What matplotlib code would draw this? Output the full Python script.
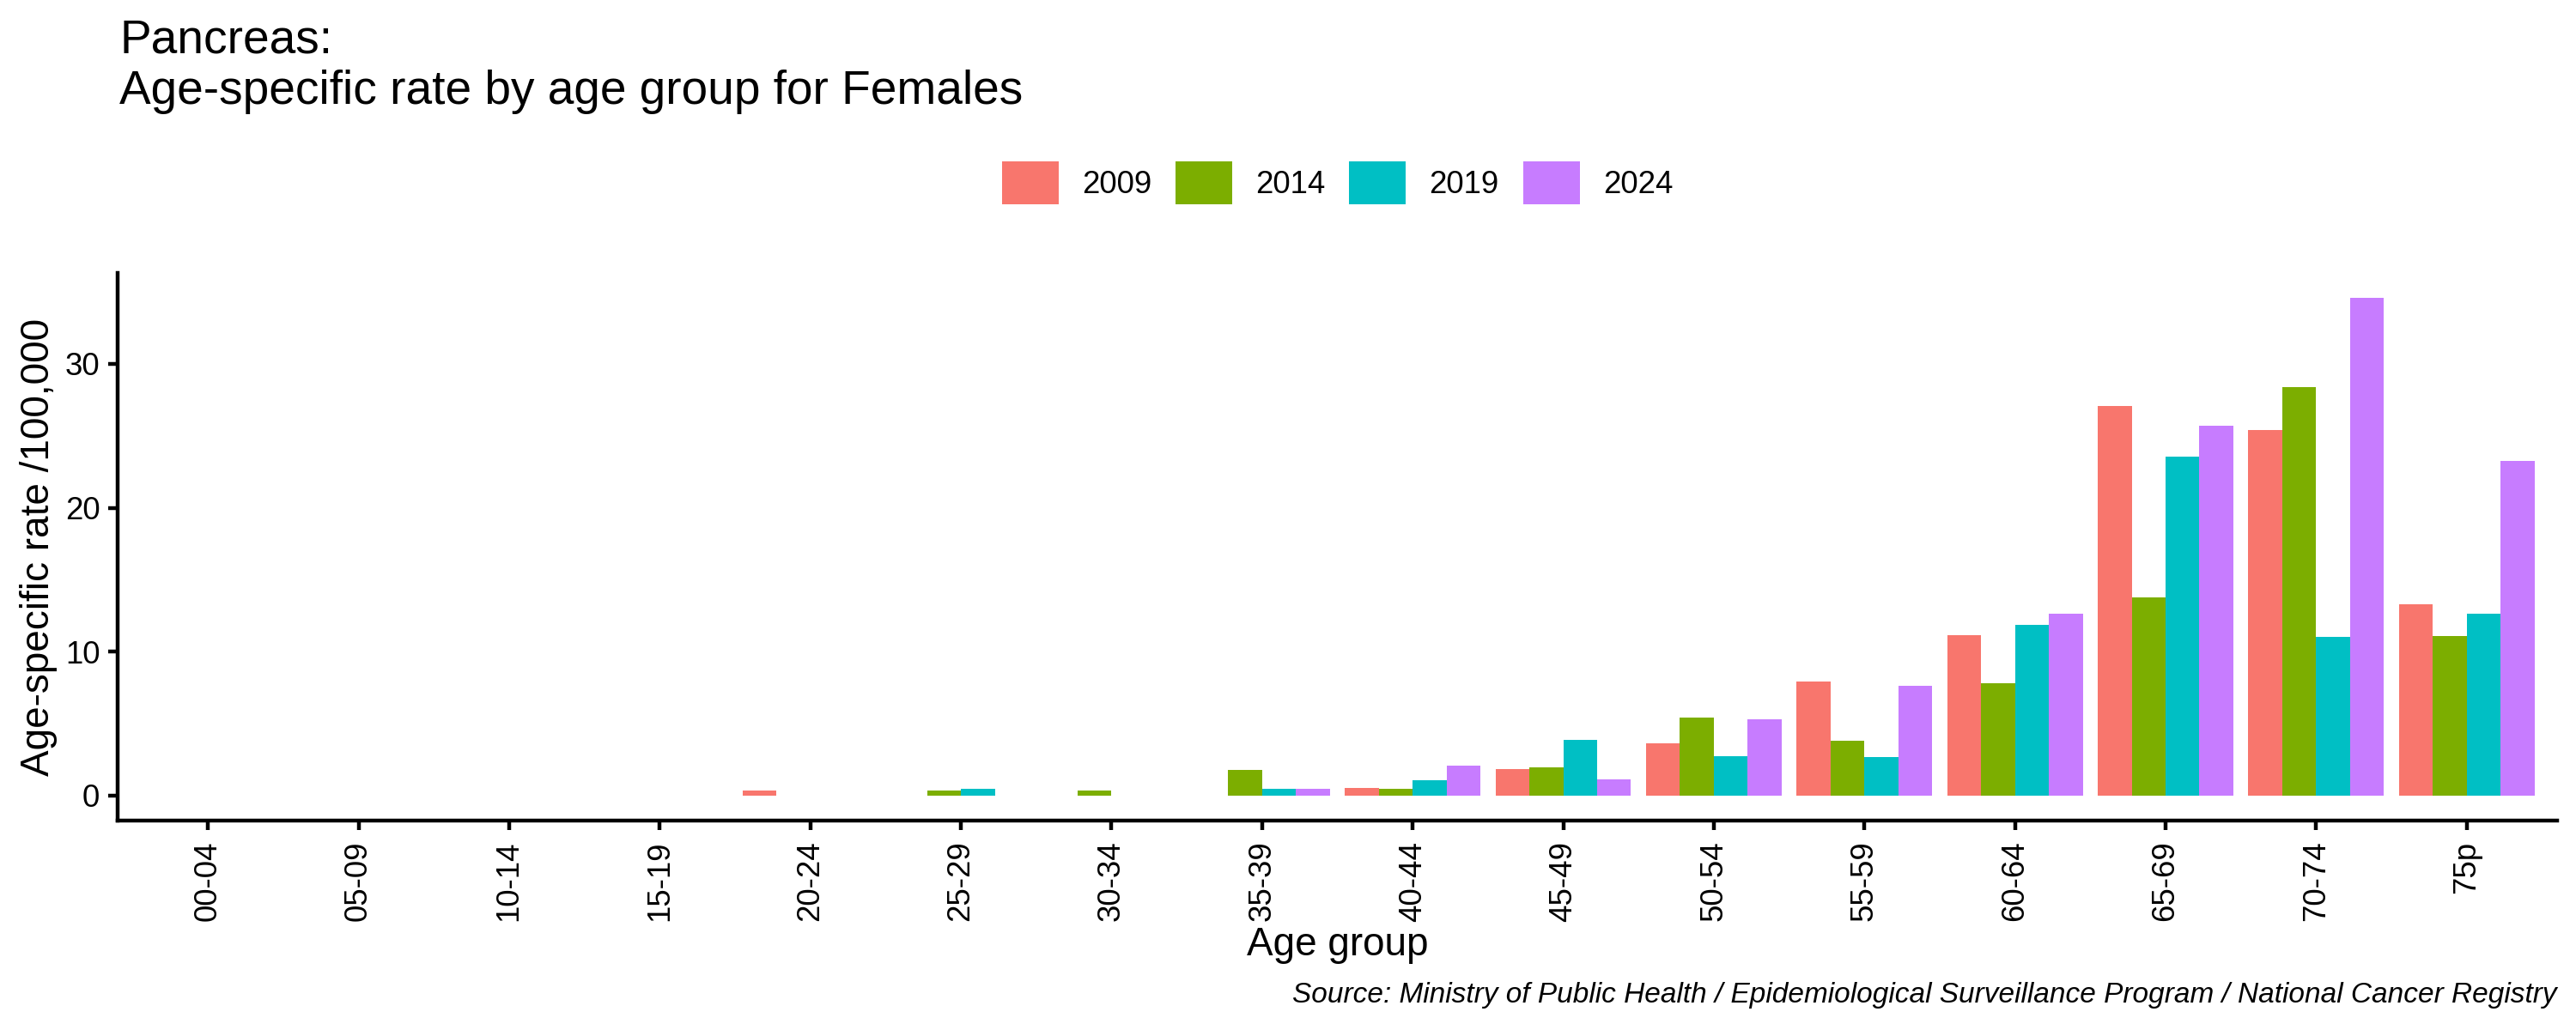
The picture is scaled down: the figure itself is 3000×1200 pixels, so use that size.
import numpy as np
import matplotlib
matplotlib.use("Agg")
import matplotlib.pyplot as plt

plt.rcParams.update({
    "font.family": ["Liberation Sans", "DejaVu Sans"],
    "font.size": 8.8,
})

# ── data ──────────────────────────────────────────────────────────────────────
AGE_GROUPS = ["00-04", "05-09", "10-14", "15-19", "20-24", "25-29", "30-34", "35-39",
              "40-44", "45-49", "50-54", "55-59", "60-64", "65-69", "70-74", "75p"]
YEARS = ["2009", "2014", "2019", "2024"]
RATE_2009 = [0, 0, 0, 0, 0.37, 0, 0, 0, 0.56, 1.87, 3.65, 7.95, 11.17, 27.07, 25.41, 13.28]
RATE_2014 = [0, 0, 0, 0, 0, 0.37, 0.37, 1.81, 0.48, 1.97, 5.44, 3.79, 7.79, 13.76, 28.40, 11.07]
RATE_2019 = [0, 0, 0, 0, 0, 0.45, 0, 0.48, 1.09, 3.89, 2.77, 2.69, 11.89, 23.55, 11.01, 12.67]
RATE_2024 = [0, 0, 0, 0, 0, 0, 0, 0.48, 2.11, 1.15, 5.28, 7.65, 12.67, 25.71, 34.59, 23.25]
YTICKS = [0, 10, 20, 30]

SERIES = [RATE_2009, RATE_2014, RATE_2019, RATE_2024]
COLORS = ["#F8766D", "#7CAE00", "#00BFC4", "#C77CFF"]

W, H = 3000, 1200
fig = plt.figure(figsize=(10, 4), dpi=300)

# panel position in pixels
left, right, top, bottom = 137, 2978, 318, 956
ax = fig.add_axes([left / W, 1 - bottom / H, (right - left) / W, (bottom - top) / H])

x = np.arange(len(AGE_GROUPS))
bw = 0.9 / len(YEARS)
handles = []
for i, (year, vals, col) in enumerate(zip(YEARS, SERIES, COLORS)):
    off = (i - 1.5) * bw
    b = ax.bar(x + off, vals, bw, color=col, label=year, linewidth=0)
    handles.append(b)

ymax = max(max(s) for s in SERIES)
ax.set_xlim(-0.6, len(AGE_GROUPS) - 1 + 0.6)
ax.set_ylim(-0.05 * ymax, ymax * 1.05)
ax.set_yticks(YTICKS)
ax.set_xticks(x)
ax.set_xticklabels(AGE_GROUPS, rotation=90, ha="center", va="top")

for s in ["top", "right"]:
    ax.spines[s].set_visible(False)
for s in ["left", "bottom"]:
    ax.spines[s].set_linewidth(1.07)
    ax.spines[s].set_color("black")
ax.tick_params(axis="both", width=1.07, length=2.76, color="black",
               labelsize=8.8, labelcolor="black")
ax.tick_params(axis="y", pad=2.2)
ax.tick_params(axis="x", pad=2.9)

# ── text ──────────────────────────────────────────────────────────────────────
fig.text(139 / W, 1 - 62 / H, "Pancreas:", fontsize=13.2, ha="left", va="baseline")
fig.text(139 / W, 1 - 121 / H, "Age-specific rate by age group for Females",
         fontsize=13.2, ha="left", va="baseline")

fig.text(45 / W, 1 - (top + bottom) / 2 / H, "Age-specific rate /100,000",
         fontsize=11, rotation=90, ha="center", va="center")
fig.text((left + right) / 2 / W, 1 - 1113 / H, "Age group",
         fontsize=11, ha="center", va="baseline")
fig.text(right / W, 1 - 1168 / H,
         "Source: Ministry of Public Health / Epidemiological Surveillance Program / National Cancer Registry",
         fontsize=8.0, style="italic", ha="right", va="baseline")

fig.legend(handles=handles, labels=YEARS, loc="center", ncol=4,
           bbox_to_anchor=((left + right) / 2 / W, 1 - 213 / H),
           frameon=False, fontsize=8.8, handlelength=1.8, handleheight=1.74,
           handletextpad=0.74, columnspacing=0.76, borderaxespad=0, borderpad=0)

fig.savefig("out.png", dpi=300)
